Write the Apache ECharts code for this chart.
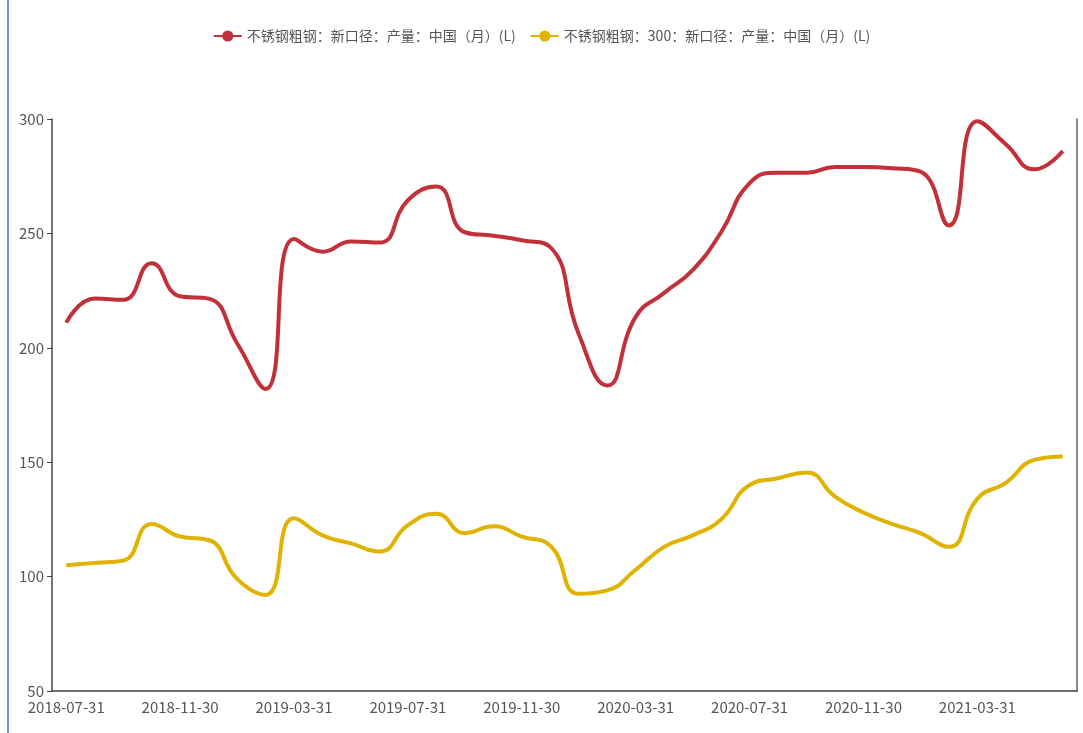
<!DOCTYPE html>
<html>
<head>
<meta charset="utf-8">
<title>不锈钢粗钢产量</title>
<script src="https://cdn.jsdelivr.net/npm/echarts@6/dist/echarts.min.js"></script>
<style>
	html, body { margin: 0; padding: 0; background: #fff; }
	#chart { width: 1083px; height: 733px; }
	#edge { position: absolute; left: 7px; top: 0; width: 2px; height: 733px; background: #6c9ade; }
</style>
</head>
<body>
<div id="edge"></div>
<div id="chart"></div>
<script>
	// months 2018-07 .. 2021-06 (month-end dates)
	var months = [
		'2018-07-31','2018-08-31','2018-09-30','2018-10-31','2018-11-30','2018-12-31',
		'2019-01-31','2019-02-28','2019-03-31','2019-04-30','2019-05-31','2019-06-30',
		'2019-07-31','2019-08-31','2019-09-30','2019-10-31','2019-11-30','2019-12-31',
		'2020-01-31','2020-02-29','2020-03-31','2020-04-30','2020-05-31','2020-06-30',
		'2020-07-31','2020-08-31','2020-09-30','2020-10-31','2020-11-30','2020-12-31',
		'2021-01-31','2021-02-28','2021-03-31','2021-04-30','2021-05-31','2021-06-30'
	];
	var seriesNames = [
		'不锈钢粗钢：新口径：产量：中国（月）(L)',
		'不锈钢粗钢：300：新口径：产量：中国（月）(L)'
	];
	var totalOutput = [
		211, 221.5, 221, 237, 222.5, 221.5, 202, 182, 247.5, 242, 246.5, 246,
		264.5, 270.5, 250.5, 249, 247, 244, 206, 183.5, 213.5, 224, 234, 250.5,
		272, 276.5, 276.5, 279, 279, 278.5, 277, 253.5, 299, 289, 278, 286
	];
	var series300 = [
		105, 106, 107, 123, 117.5, 116, 99, 92, 125.5, 118, 114.5, 111,
		122.5, 127.5, 119, 122, 117.5, 113.5, 92.5, 94, 103, 113, 118, 125,
		140, 143, 145.5, 135, 128, 123, 119, 113, 134, 141, 151, 152.5
	];
	var colors = ['#c2303a', '#dfb300'];

	var myChart = echarts.init(document.getElementById('chart'));
	var axisText = { color: '#555', fontSize: 15, fontFamily: 'Noto Sans CJK SC, sans-serif' };

	var option = {
		color: colors,
		legend: {
			top: 24,
			left: 'center',
			itemWidth: 28,
			itemHeight: 14,
			itemGap: 14,
			textStyle: { color: '#555', fontSize: 14, fontFamily: 'Noto Sans CJK SC, sans-serif' },
			data: seriesNames
		},
		grid: { left: 52, right: 6, top: 119, bottom: 42 },
		xAxis: {
			type: 'category',
			boundaryGap: true,
			data: months,
			axisLine: { lineStyle: { color: '#444', width: 1.5 } },
			axisTick: { interval: 3, length: 5, lineStyle: { color: '#444' } },
			axisLabel: Object.assign({ interval: 3, margin: 9 }, axisText),
			splitLine: { show: false }
		},
		yAxis: [{
			type: 'value',
			min: 50,
			max: 300,
			interval: 50,
			axisLine: { show: true, lineStyle: { color: '#444', width: 1.5 } },
			axisTick: { show: true, length: 5, lineStyle: { color: '#444' } },
			axisLabel: Object.assign({ margin: 8 }, axisText),
			splitLine: { show: false }
		}, {
			type: 'value',
			min: 50,
			max: 300,
			interval: 50,
			position: 'right',
			axisLine: { show: true, lineStyle: { color: '#666', width: 1.5 } },
			axisTick: { show: false },
			axisLabel: { show: false },
			splitLine: { show: false }
		}],
		series: [{
			name: seriesNames[0],
			type: 'line',
			smooth: true,
			symbol: 'circle',
			showSymbol: false,
			lineStyle: { width: 4 },
			data: totalOutput
		}, {
			name: seriesNames[1],
			type: 'line',
			smooth: true,
			symbol: 'circle',
			showSymbol: false,
			lineStyle: { width: 4 },
			data: series300
		}]
	};
	myChart.setOption(option);
</script>
</body>
</html>
